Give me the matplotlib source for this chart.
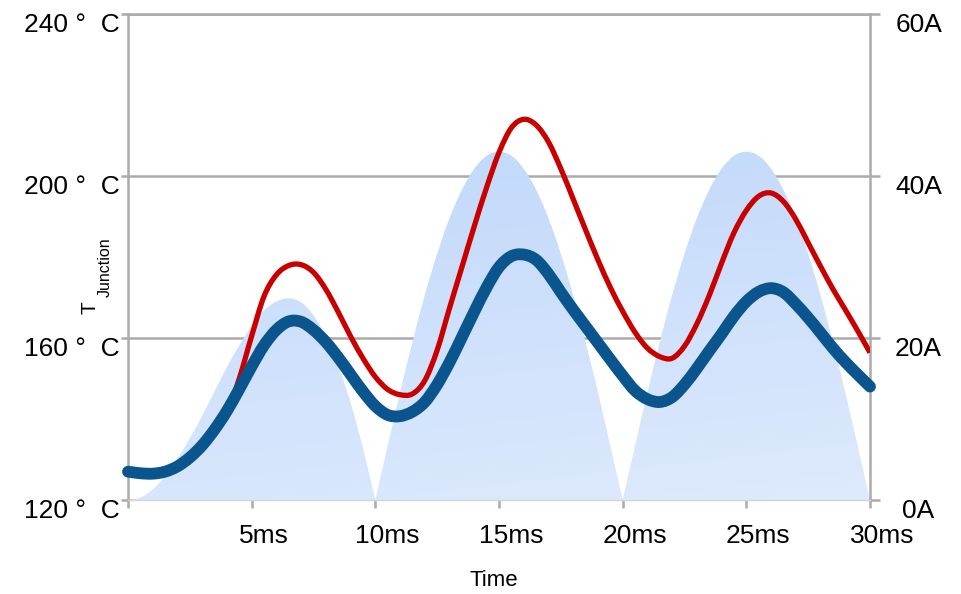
import numpy as np
import matplotlib
matplotlib.use("Agg")
import matplotlib.pyplot as plt
from matplotlib.patches import PathPatch
from matplotlib.path import Path
from matplotlib.transforms import ScaledTranslation

plt.rcParams['font.family'] = ['Liberation Sans', 'DejaVu Sans']

# ---- data ----
time_ms = np.arange(0, 30.5, 0.5)

current_A = [0.0, 0.3, 1.3, 2.9, 5.1, 7.6, 10.4, 13.4, 16.4, 19.1,
             21.5, 23.4, 24.5, 24.9, 24.4, 22.8, 20.2, 16.6, 12.0, 6.4,
             0.0, 6.7, 13.3, 19.5, 25.3, 30.4, 34.8, 38.3, 40.9, 42.5,
             43.0, 42.5, 40.9, 38.3, 34.8, 30.4, 25.3, 19.5, 13.3, 6.7,
             0.0, 6.7, 13.3, 19.5, 25.3, 30.4, 34.8, 38.3, 40.9, 42.5,
             43.0, 42.5, 40.9, 38.3, 34.8, 30.4, 25.3, 19.5, 13.3, 6.7,
             0.0]

tj_blue = [127.0, 126.6, 126.5, 127.0, 128.3, 130.5, 133.5, 137.4, 142.0, 147.4,
           153.0, 158.2, 162.0, 164.1, 164.0, 162.0, 159.0, 155.2, 151.0, 146.8,
           143.2, 141.0, 140.7, 141.8, 144.2, 148.5, 154.0, 160.2, 166.5, 172.5,
           177.5, 180.2, 180.6, 179.3, 175.8, 171.3, 167.0, 162.9, 158.8, 154.7,
           150.7, 147.0, 144.9, 144.2, 145.4, 148.5, 152.5, 156.8, 161.0, 165.4,
           169.0, 171.4, 172.3, 171.3, 168.4, 165.0, 161.3, 157.5, 154.1, 151.0,
           148.0]

tj_red = [126.8, 126.3, 126.1, 126.5, 127.7, 129.8, 132.8, 136.8, 141.6, 150.0,
          160.5, 170.3, 175.6, 177.9, 178.1, 176.2, 172.0, 166.4, 160.4, 155.0,
          150.4, 147.3, 146.0, 146.2, 149.5, 157.0, 167.4, 177.5, 187.6, 197.2,
          205.8, 211.9, 214.0, 212.6, 208.4, 201.8, 194.3, 186.7, 179.3, 172.5,
          166.6, 161.4, 157.5, 155.4, 155.0, 158.0, 163.5, 170.5, 178.5, 186.0,
          191.5, 195.0, 195.8, 193.7, 189.3, 183.5, 177.7, 172.1, 167.0, 161.8,
          156.4]

x_ticks = [0, 5, 10, 15, 20, 25, 30]
x_labels = ['', '5ms', '10ms', '15ms', '20ms', '25ms', '30ms']
t_ticks = [120, 160, 200, 240]
t_labels = ['120 \u00b0  C', '160 \u00b0  C', '200 \u00b0  C', '240 \u00b0  C']
a_ticks = [0, 20, 40, 60]
a_labels = ['0A', '20A', '40A', '60A']


def smooth_path_pts(x, y):
    """Vertices/codes of a smooth (Catmull-Rom style) Bezier path through the points."""
    p = np.column_stack([x, y]).astype(float)
    n = len(p)
    verts = [p[0]]
    codes = [Path.MOVETO]
    for i in range(n - 1):
        p0 = p[i - 1] if i > 0 else p[i]
        p1, p2 = p[i], p[i + 1]
        p3 = p[i + 2] if i + 2 < n else p[i + 1]
        c1 = p1 + (p2 - p0) / 6.0
        c2 = p2 - (p3 - p1) / 6.0
        verts += [c1, c2, p2]
        codes += [Path.CURVE4] * 3
    return verts, codes


# ---- figure ----
W, H = 961, 594
fig = plt.figure(figsize=(W / 100, H / 100), dpi=100)
ax = fig.add_axes([128 / W, 1 - 500 / H, (870 - 128) / W, (500 - 14) / H])
ax2 = ax.twinx()
ax.set_zorder(2)
ax2.set_zorder(1)
ax.patch.set_visible(False)

grey = '#ababab'

# current (right axis): smooth humps, filled with a gradient
t_arr = np.asarray(time_ms)
i_arr = np.asarray(current_A)
zero_idx = [k for k in range(len(i_arr)) if i_arr[k] == 0.0]
all_v, all_c = [], []
for a, b in zip(zero_idx[:-1], zero_idx[1:]):
    v, c = smooth_path_pts(t_arr[a:b + 1], i_arr[a:b + 1])
    v.append(np.array([t_arr[a], 0.0]))
    c.append(Path.LINETO)
    v.append(np.array([t_arr[a], 0.0]))
    c.append(Path.CLOSEPOLY)
    all_v += v
    all_c += c
hump_path = Path(np.array(all_v), all_c)
hump_patch = PathPatch(hump_path, facecolor='none', edgecolor='none',
                       transform=ax2.transData)
ax2.add_patch(hump_patch)

ny, nx = 240, 300
yy = np.linspace(0, 1, ny)[:, None]
xx = np.linspace(0, 1, nx)[None, :]
frac = np.clip(0.8 * (yy * 60 / 43) + 0.2 * (1 - xx), 0, 1)
light = np.array([222, 234, 253]) / 255
dark = np.array([192, 216, 250]) / 255
img = light[None, None, :] + (dark - light)[None, None, :] * frac[:, :, None]
im = ax2.imshow(img, extent=[0, 30, 0, 60], origin='lower', aspect='auto',
                interpolation='bilinear', zorder=1)
im.set_clip_path(hump_patch)

ax2.set_ylim(0, 60)
ax2.set_yticks(a_ticks)
ax2.set_yticklabels(a_labels)
ax2.yaxis.grid(True, color=grey, lw=1.8)
ax2.set_axisbelow(True)
for s in ['left', 'top', 'bottom']:
    ax2.spines[s].set_visible(False)
ax2.spines['right'].set_color(grey)
ax2.spines['right'].set_linewidth(1.8)
ax2.tick_params(axis='y', length=7, width=1.8, color=grey, pad=28, labelsize=19)

# temperature curves (left axis), drawn as smooth lines
v, c = smooth_path_pts(time_ms, tj_red)
ax.add_patch(PathPatch(Path(np.array(v), c), facecolor='none', edgecolor='#c80000',
                       lw=3.8, capstyle='butt', joinstyle='round', zorder=3))
v, c = smooth_path_pts(time_ms, tj_blue)
ax.add_patch(PathPatch(Path(np.array(v), c), facecolor='none', edgecolor='#0b558f',
                       lw=8.5, capstyle='round', joinstyle='round', zorder=4,
                       clip_on=False))

ax.set_xlim(0, 30)
ax.set_ylim(120, 240)
ax.set_xticks(x_ticks)
ax.set_xticklabels(x_labels)
ax.set_yticks(t_ticks)
ax.set_yticklabels(t_labels)
ax.spines['right'].set_visible(False)
for s in ['left', 'top']:
    ax.spines[s].set_color(grey)
    ax.spines[s].set_linewidth(1.8)
ax.spines['bottom'].set_color('#d4d4d4')
ax.spines['bottom'].set_linewidth(1.0)
ax.tick_params(axis='y', length=5, width=1.8, color=grey, pad=1, labelsize=19)
ax.tick_params(axis='x', length=6, width=1.8, color=grey, pad=11, labelsize=19)

# label placement tweaks
dy = ScaledTranslation(0, -18 / 100, fig.dpi_scale_trans)
for lbl in ax.get_yticklabels():
    lbl.set_va('baseline')
    lbl.set_transform(lbl.get_transform() + dy)
for lbl in ax2.get_yticklabels():
    lbl.set_va('baseline')
    lbl.set_ha('center')
    lbl.set_transform(lbl.get_transform() + dy)
dx = ScaledTranslation(12 / 100, 0, fig.dpi_scale_trans)
for lbl in ax.get_xticklabels():
    lbl.set_transform(lbl.get_transform() + dx)

# axis titles
fig.text(89.5 / W, 1 - 307.5 / H, 'T', rotation=90, fontsize=15,
         ha='center', va='center')
fig.text(105.5 / W, 1 - 267.5 / H, 'Junction', rotation=90, fontsize=11.5,
         ha='center', va='center')
fig.text(494 / W, 1 - 581 / H, 'Time', fontsize=16, ha='center', va='center')

fig.savefig('out.png', dpi=100, facecolor='white')
